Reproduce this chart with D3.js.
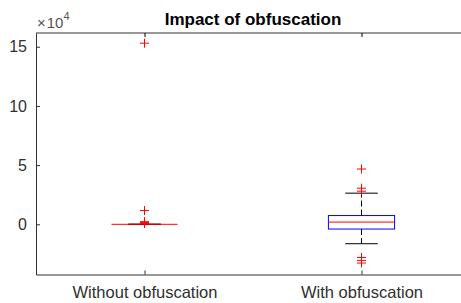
<!DOCTYPE html>
<html>
<head>
<meta charset="utf-8">
<script src="https://cdn.jsdelivr.net/npm/d3@7"></script>
<style>
  body { margin: 0; background: #fff; }
  svg { display: block; font-family: "Liberation Sans", Arial, sans-serif; }
</style>
</head>
<body>
<svg id="chart" width="461" height="303"></svg>
<script>
// values in units of 10^4
const categories = ["Without obfuscation", "With obfuscation"];
const medians = [0.0, 0.19];
const q1 = [0.0, -0.40];
const q3 = [0.0, 0.74];
const whiskerLow = [-0.02, -1.64];
const whiskerHigh = [0.02, 2.63];
const outliers = [
  [15.3, 1.16, 0.22, 0.16, 0.11, 0.07],
  [4.67, 3.05, 2.8, -2.8, -3.05, -3.27]
];
const yTicks = [0, 5, 10, 15];

const svg = d3.select("#chart");
const axisColor = "#303030";

const x = d3.scaleLinear().domain([0.5, 2.5]).range([36, 470]);
const y = d3.scaleLinear().domain([-4.24, 16.16]).range([274.5, 33]);

const boxW = 0.305, capW = 0.15;

// axes frame
svg.append("line").attr("x1", 36).attr("x2", 470).attr("y1", 33).attr("y2", 33)
  .attr("stroke", axisColor);

const yAxis = svg.append("g")
  .attr("transform", "translate(36,0)")
  .call(d3.axisLeft(y).tickValues(yTicks).tickSize(-4).tickPadding(9).tickSizeOuter(0));

const xAxis = svg.append("g")
  .attr("transform", "translate(0,274.5)")
  .call(d3.axisBottom(x).tickValues([1, 2]).tickFormat(d => categories[d - 1])
    .tickSize(-4).tickPadding(12).tickSizeOuter(0));

svg.append("g")
  .attr("transform", "translate(0,33)")
  .call(d3.axisTop(x).tickValues([1, 2]).tickFormat("").tickSize(-4).tickSizeOuter(0))
  .select(".domain").remove();

[yAxis, xAxis].forEach(g => {
  g.selectAll("path, line").attr("stroke", axisColor);
  g.selectAll("text").attr("fill", axisColor).attr("font-size", 16);
});
xAxis.selectAll("text").attr("font-size", 16.5);

// multiplier
const mult = svg.append("text").attr("x", 37).attr("y", 28)
  .attr("fill", "#555").attr("font-size", 15);
mult.append("tspan").text("\u00d7");
mult.append("tspan").attr("dx", 1).text("10");
mult.append("tspan").attr("dy", -8).attr("font-size", 11).text("4");

// title
svg.append("text")
  .attr("x", (36 + 470) / 2).attr("y", 25)
  .attr("text-anchor", "middle")
  .attr("font-size", 17).attr("font-weight", "bold")
  .attr("fill", "#000")
  .text("Impact of obfuscation");

// boxes
const groups = svg.append("g");
categories.forEach((c, i) => {
  const cx = i + 1;
  const g = groups.append("g");
  // whiskers
  g.append("line").attr("x1", x(cx)).attr("x2", x(cx))
    .attr("y1", y(q3[i])).attr("y2", y(whiskerHigh[i]))
    .attr("stroke", "#000").attr("stroke-dasharray", "6,3");
  g.append("line").attr("x1", x(cx)).attr("x2", x(cx))
    .attr("y1", y(q1[i])).attr("y2", y(whiskerLow[i]))
    .attr("stroke", "#000").attr("stroke-dasharray", "6,3");
  [whiskerHigh[i], whiskerLow[i]].forEach(v => {
    g.append("line").attr("x1", x(cx - capW / 2)).attr("x2", x(cx + capW / 2))
      .attr("y1", y(v)).attr("y2", y(v)).attr("stroke", "#000");
  });
  // box
  g.append("rect")
    .attr("x", x(cx - boxW / 2)).attr("width", x(cx + boxW / 2) - x(cx - boxW / 2))
    .attr("y", y(q3[i])).attr("height", Math.max(0, y(q1[i]) - y(q3[i])))
    .attr("fill", "none").attr("stroke", "#0000ff");
  // median
  g.append("line").attr("x1", x(cx - boxW / 2)).attr("x2", x(cx + boxW / 2))
    .attr("y1", y(medians[i])).attr("y2", y(medians[i]))
    .attr("stroke", "#ff0000");
  // outliers
  outliers[i].forEach(v => {
    const px = x(cx), py = y(v), s = 4.5;
    g.append("path")
      .attr("d", `M${px - s},${py}H${px + s}M${px},${py - s}V${py + s}`)
      .attr("stroke", "#ff0000").attr("fill", "none");
  });
});
</script>
</body>
</html>
